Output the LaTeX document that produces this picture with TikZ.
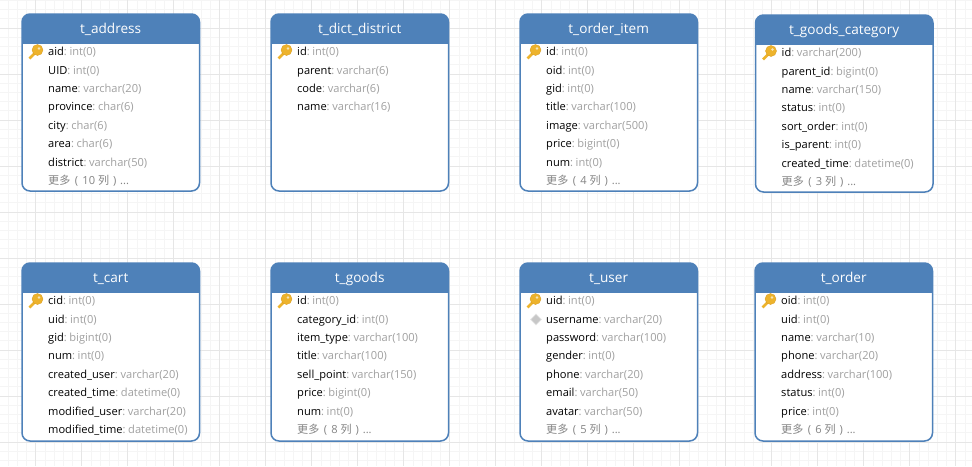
\documentclass[tikz,border=0pt]{standalone}
\usepackage{fontspec}
\setmainfont{Open Sans}
\newfontfamily\cjk{Noto Sans CJK SC}
\usetikzlibrary{shapes.geometric}
\definecolor{headblue}{HTML}{4E81B9}
\definecolor{gridminor}{HTML}{F5F5F5}
\definecolor{gridmajor}{HTML}{E6E6E6}
\definecolor{typegray}{HTML}{A0A0A0}
\definecolor{moregray}{HTML}{858585}
\definecolor{keygold}{HTML}{EDB32C}
\definecolor{keyedge}{HTML}{D79A1E}
\tikzset{
  x=1pt,y=-1pt,
  tablebox/.style={draw=headblue,line width=1.5pt,rounded corners=8pt},
  tabletitle/.style={text=white,inner sep=0pt,font=\fontsize{13.6}{15}\selectfont},
  fieldrow/.style={anchor=base west,inner sep=0pt,font=\fontsize{11.1}{13}\selectfont},
  keyrow/.style={fill=keygold,draw=keyedge,line width=.3pt,circle,inner sep=0pt,minimum size=11pt},
  uniquerow/.style={diamond,fill=black!22,draw=black!10,line width=.8pt,inner sep=0pt,minimum size=11pt},
}
% table frame: name, left, top, height, title
\newcommand{\tableframe}[5]{%
  \fill[white,rounded corners=8pt] (#2,#3) rectangle (#2+177.5,#3+#4);
  \begin{scope}
    \clip (#2-1,#3-1) rectangle (#2+179,#3+29);
    \fill[headblue,rounded corners=8pt] (#2,#3) rectangle (#2+177.5,#3+40);
  \end{scope}
  \draw[tablebox] (#2,#3) rectangle (#2+177.5,#3+#4);
  \node[tabletitle,anchor=base] (#1) at (#2+88.7,#3+19) {#5};
}
% rows: table name, left, top, list of field/type
\newcommand{\tablerows}[4]{%
  \foreach \fname/\ftype [count=\i] in {#4}
    \node[fieldrow] (#1f\i) at (#2+26,{#3+41.7+18.4*(\i-1)}) {\fname\textcolor{typegray}{:\kern2.6pt\ftype}};
}
% last row: table name, left, top, hidden columns
\newcommand{\morerow}[4]{%
  \node[fieldrow,text=moregray] (#1more) at (#2+26,#3+170.5) {{\cjk 更多}\kern1.5pt\ (\kern1.5pt\ #4 {\cjk 列}\kern1pt\ )\kern1pt\ ...};
}
% key icon left of the first row: table name, left, top
\newcommand{\keyicon}[3]{%
  \draw[keygold,line width=2.8pt] (#2+7.5,#3+44.5) -- (#2+13,#3+39);
  \node[keyrow] (#1key) at (#2+15.5,#3+36) {};
  \fill[white!65!keygold] (#2+17,#3+34.5) circle (1.4pt);
}
\begin{document}
\begin{tikzpicture}
  \useasboundingbox (0,0) rectangle (972,466);
  \fill[white] (0,0) rectangle (972,466);
  % background grid
  \foreach \gx in {0,...,106} \draw[gridminor,line width=.8pt] ({-1.1+9.2*\gx},0) -- ({-1.1+9.2*\gx},466);
  \foreach \gy in {0,...,50} \draw[gridminor,line width=.8pt] (0,{0.4+9.2*\gy}) -- (972,{0.4+9.2*\gy});
  \foreach \gx in {0,...,21} \draw[gridmajor,line width=.8pt] ({35.7+46*\gx},0) -- ({35.7+46*\gx},466);
  \foreach \gy in {0,...,9} \draw[gridmajor,line width=.8pt] (0,{28+46*\gy}) -- (972,{28+46*\gy});
  % top row
  \tableframe{address}{22}{14}{177}{t\_address}
  \keyicon{address}{22}{14}
  \tablerows{address}{22}{14}{aid/int(0),UID/int(0),name/varchar(20),province/char(6),city/char(6),area/char(6),district/varchar(50)}
  \morerow{address}{22}{14}{10}
  \tableframe{district}{271}{14}{177}{t\_dict\_district}
  \keyicon{district}{271}{14}
  \tablerows{district}{271}{14}{id/int(0),parent/varchar(6),code/varchar(6),name/varchar(16)}
  \tableframe{item}{520}{14}{177}{t\_order\_item}
  \keyicon{item}{520}{14}
  \tablerows{item}{520}{14}{id/int(0),oid/int(0),gid/int(0),title/varchar(100),image/varchar(500),price/bigint(0),num/int(0)}
  \morerow{item}{520}{14}{4}
  \tableframe{category}{755.5}{15}{177}{t\_goods\_category}
  \keyicon{category}{755.5}{15}
  \tablerows{category}{755.5}{15}{id/varchar(200),parent\_id/bigint(0),name/varchar(150),status/int(0),sort\_order/int(0),is\_parent/int(0),created\_time/datetime(0)}
  \morerow{category}{755.5}{15}{3}
  % bottom row
  \tableframe{cart}{22}{263}{178}{t\_cart}
  \keyicon{cart}{22}{263}
  \tablerows{cart}{22}{263}{cid/int(0),uid/int(0),gid/bigint(0),num/int(0),created\_user/varchar(20),created\_time/datetime(0),modified\_user/varchar(20),modified\_time/datetime(0)}
  \tableframe{goods}{271}{263}{178}{t\_goods}
  \keyicon{goods}{271}{263}
  \tablerows{goods}{271}{263}{id/int(0),category\_id/int(0),item\_type/varchar(100),title/varchar(100),sell\_point/varchar(150),price/bigint(0),num/int(0)}
  \morerow{goods}{271}{263}{8}
  \tableframe{user}{520}{263}{178}{t\_user}
  \keyicon{user}{520}{263}
  \node[uniquerow] (userunique) at (536,319.5) {};
  \tablerows{user}{520}{263}{uid/int(0),username/varchar(20),password/varchar(100),gender/int(0),phone/varchar(20),email/varchar(50),avatar/varchar(50)}
  \morerow{user}{520}{263}{5}
  \tableframe{order}{755}{263}{178}{t\_order}
  \keyicon{order}{755}{263}
  \tablerows{order}{755}{263}{oid/int(0),uid/int(0),name/varchar(10),phone/varchar(20),address/varchar(100),status/int(0),price/int(0)}
  \morerow{order}{755}{263}{6}
\end{tikzpicture}
\end{document}
